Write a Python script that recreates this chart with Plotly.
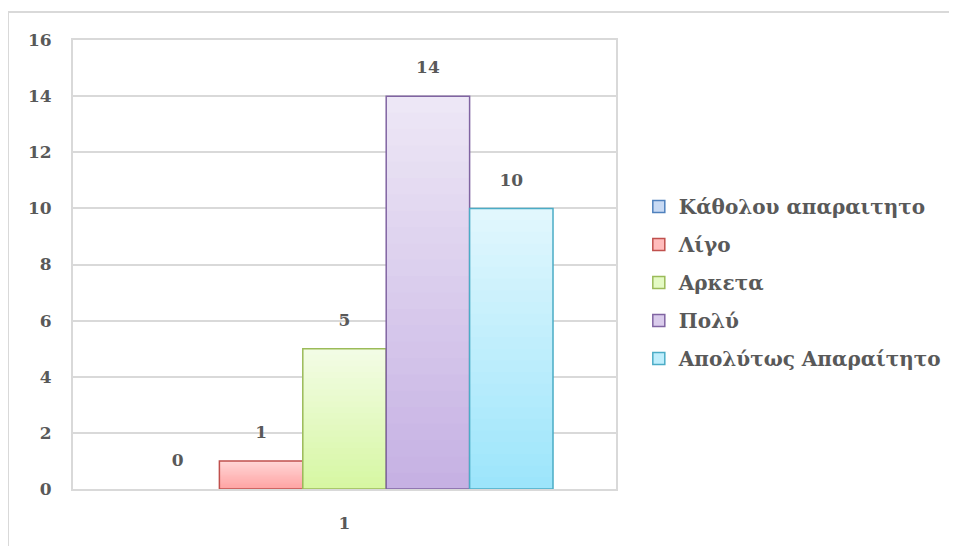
import plotly.graph_objects as go

category = ["1"]
series_names = ["Κάθολου απαραιτητο", "Λίγο", "Αρκετα", "Πολύ", "Απολύτως Απαραίτητο"]
series_values = [0, 1, 5, 14, 10]
y_ticks = [0, 2, 4, 6, 8, 10, 12, 14, 16]

# styles (gradient top / bottom, outline)
top_colors = [(0xdc, 0xe8, 0xf8), (0xff, 0xd6, 0xd6), (0xf3, 0xfc, 0xe6), (0xee, 0xe8, 0xf6), (0xe2, 0xf7, 0xfd)]
bot_colors = [(0xb3, 0xcd, 0xef), (0xff, 0xa3, 0xa3), (0xd6, 0xf7, 0xa2), (0xc5, 0xb0, 0xe3), (0x9c, 0xe5, 0xfb)]
line_colors = ["#4f81bd", "#c0504d", "#9bbb59", "#8064a2", "#4bacc6"]
N_BANDS = 24

FONT = "DejaVu Serif"
GRAY = "#595959"


def mix(c1, c2, t):
    return "rgb(%d,%d,%d)" % tuple(round(a + (b - a) * t) for a, b in zip(c1, c2))


fig = go.Figure()
for i, (name, val) in enumerate(zip(series_names, series_values)):
    grp = f"g{i}"
    lw = 0 if val == 0 else 1.5
    # legend entry (swatch only)
    fig.add_trace(go.Bar(
        x=category, y=[None], name=name, legendgroup=grp, offsetgroup=grp,
        marker=dict(color=mix(top_colors[i], bot_colors[i], 0.5),
                    line=dict(color=line_colors[i], width=1.5)),
        showlegend=True,
    ))
    # gradient bands (each band reaches the top; later bands cover earlier ones)
    for k in range(N_BANDS):
        fig.add_trace(go.Bar(
            x=category, y=[val * (N_BANDS - k) / N_BANDS], base=[val * k / N_BANDS],
            legendgroup=grp, offsetgroup=grp, showlegend=False,
            marker=dict(color=mix(bot_colors[i], top_colors[i], (k + 0.5) / N_BANDS),
                        line=dict(width=0)),
            hoverinfo="skip",
        ))
    # outline on top
    fig.add_trace(go.Bar(
        x=category, y=[val], legendgroup=grp, offsetgroup=grp, showlegend=False,
        marker=dict(color="rgba(0,0,0,0)", line=dict(color=line_colors[i], width=lw)),
    ))

# value labels (scatter grouped like the bars)
for i, val in enumerate(series_values):
    fig.add_trace(go.Scatter(
        x=category, y=[val], offsetgroup=f"g{i}", mode="markers+text",
        marker=dict(size=28, opacity=0), text=[str(val)], textposition="top center",
        textfont=dict(family=FONT, size=17, color=GRAY, weight="bold"),
        showlegend=False, cliponaxis=False, hoverinfo="skip",
    ))

fig.update_layout(
    width=957, height=546,
    margin=dict(l=65, r=349, t=32, b=65),
    paper_bgcolor="white", plot_bgcolor="white",
    barmode="group", bargap=0.232, bargroupgap=0,
    scattermode="group", scattergap=0.232,
    font=dict(family=FONT, size=17, color=GRAY, weight="bold"),
    showlegend=True,
    legend=dict(
        x=1.042, xanchor="left", y=0.46, yanchor="middle",
        traceorder="grouped", tracegroupgap=9,
        font=dict(family=FONT, size=20, color=GRAY, weight="bold"),
        bgcolor="rgba(0,0,0,0)",
    ),
    xaxis=dict(type="category", showgrid=False, showline=True, mirror=True,
               linecolor="#d9d9d9", linewidth=2, ticks="", ticklabelstandoff=18),
    yaxis=dict(range=[0, 16], tickvals=y_ticks, showgrid=True, gridcolor="#d9d9d9",
               gridwidth=2, showline=True, mirror=True, linecolor="#d9d9d9",
               linewidth=2, zeroline=False, ticks="", ticklabelstandoff=16),
    shapes=[dict(type="rect", xref="paper", yref="paper",
                 x0=(8 - 73) / 543, x1=(975 - 73) / 543,
                 y0=(489 - 560) / 449, y1=(489 - 12) / 449,
                 line=dict(color="#d9d9d9", width=2), fillcolor="rgba(0,0,0,0)",
                 layer="below")],
)

fig.write_html("out.html")
